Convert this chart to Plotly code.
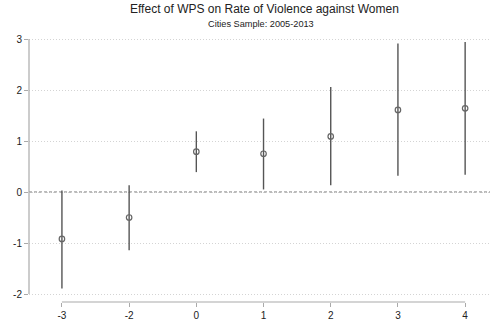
import plotly.graph_objects as go

categories = ["-3", "-2", "0", "1", "2", "3", "4"]
estimates = [-0.92, -0.50, 0.79, 0.75, 1.09, 1.61, 1.64]
ci_upper = [0.03, 0.13, 1.19, 1.44, 2.06, 2.91, 2.94]
ci_lower = [-1.89, -1.14, 0.39, 0.05, 0.13, 0.32, 0.34]
y_ticks = [-2, -1, 0, 1, 2, 3]
y_tick_labels = ["-2", "-1", "0", "1", "2", "3"]

err_plus = [u - e for u, e in zip(ci_upper, estimates)]
err_minus = [e - l for e, l in zip(estimates, ci_lower)]

fig = go.Figure()
fig.add_trace(go.Scatter(
    x=categories, y=estimates, mode="markers",
    marker=dict(symbol="circle-open", size=5.5, color="#666666", line=dict(width=1.2)),
    error_y=dict(type="data", symmetric=False, array=err_plus, arrayminus=err_minus,
                 color="#555555", thickness=1.4, width=0),
    showlegend=False,
))

# dashed reference line at zero
fig.add_shape(type="line", xref="paper", yref="y", x0=0, x1=1, y0=0, y1=0,
              line=dict(color="#777777", width=1, dash="3px,2px"), layer="below")
# y axis line spanning tick range
fig.add_shape(type="line", xref="paper", yref="y", x0=0, x1=0, y0=min(y_ticks), y1=max(y_ticks),
              line=dict(color="#aaaaaa", width=1.2))
# x axis line spanning tick range
fig.add_shape(type="line", xref="x", yref="paper", x0=0, x1=len(categories) - 1, y0=0, y1=0,
              line=dict(color="#aaaaaa", width=1.2))

px_per_unit = 51.0
fig.update_layout(
    width=490, height=322,
    margin=dict(l=29, r=0, t=35, b=20, autoexpand=False),
    plot_bgcolor="white", paper_bgcolor="white",
    font=dict(family="Liberation Sans, Arial, sans-serif", size=10, color="#222222"),
    annotations=[
        dict(text="Effect of WPS on Rate of Violence against Women", xref="paper", yref="paper",
             x=0.51, y=1, yshift=35, showarrow=False, xanchor="center", yanchor="top",
             font=dict(size=12, color="#222222")),
        dict(text="Cities Sample: 2005-2013", xref="paper", yref="paper",
             x=0.504, y=1, yshift=18, showarrow=False, xanchor="center", yanchor="top",
             font=dict(size=9.2, color="#222222")),
    ],
)
fig.update_xaxes(type="category", categoryorder="array", categoryarray=categories,
                 range=[-0.49, 6.37], showgrid=False, showline=False, zeroline=False,
                 automargin=False,
                 ticks="outside", ticklen=4, tickcolor="#aaaaaa", tickwidth=1.2)
fig.update_yaxes(range=[-2 - 8 / px_per_unit, 3 + 4 / px_per_unit],
                 tickvals=y_ticks, ticktext=y_tick_labels, automargin=False,
                 showgrid=True, gridcolor="#d4d4d4", griddash="1px,2px", gridwidth=1,
                 showline=False, zeroline=False,
                 ticks="outside", ticklen=4, tickcolor="#aaaaaa", tickwidth=1.2)

fig.write_html("out.html", config={"displayModeBar": False},
               post_script="document.body.style.margin='0';document.body.style.overflow='hidden';")
